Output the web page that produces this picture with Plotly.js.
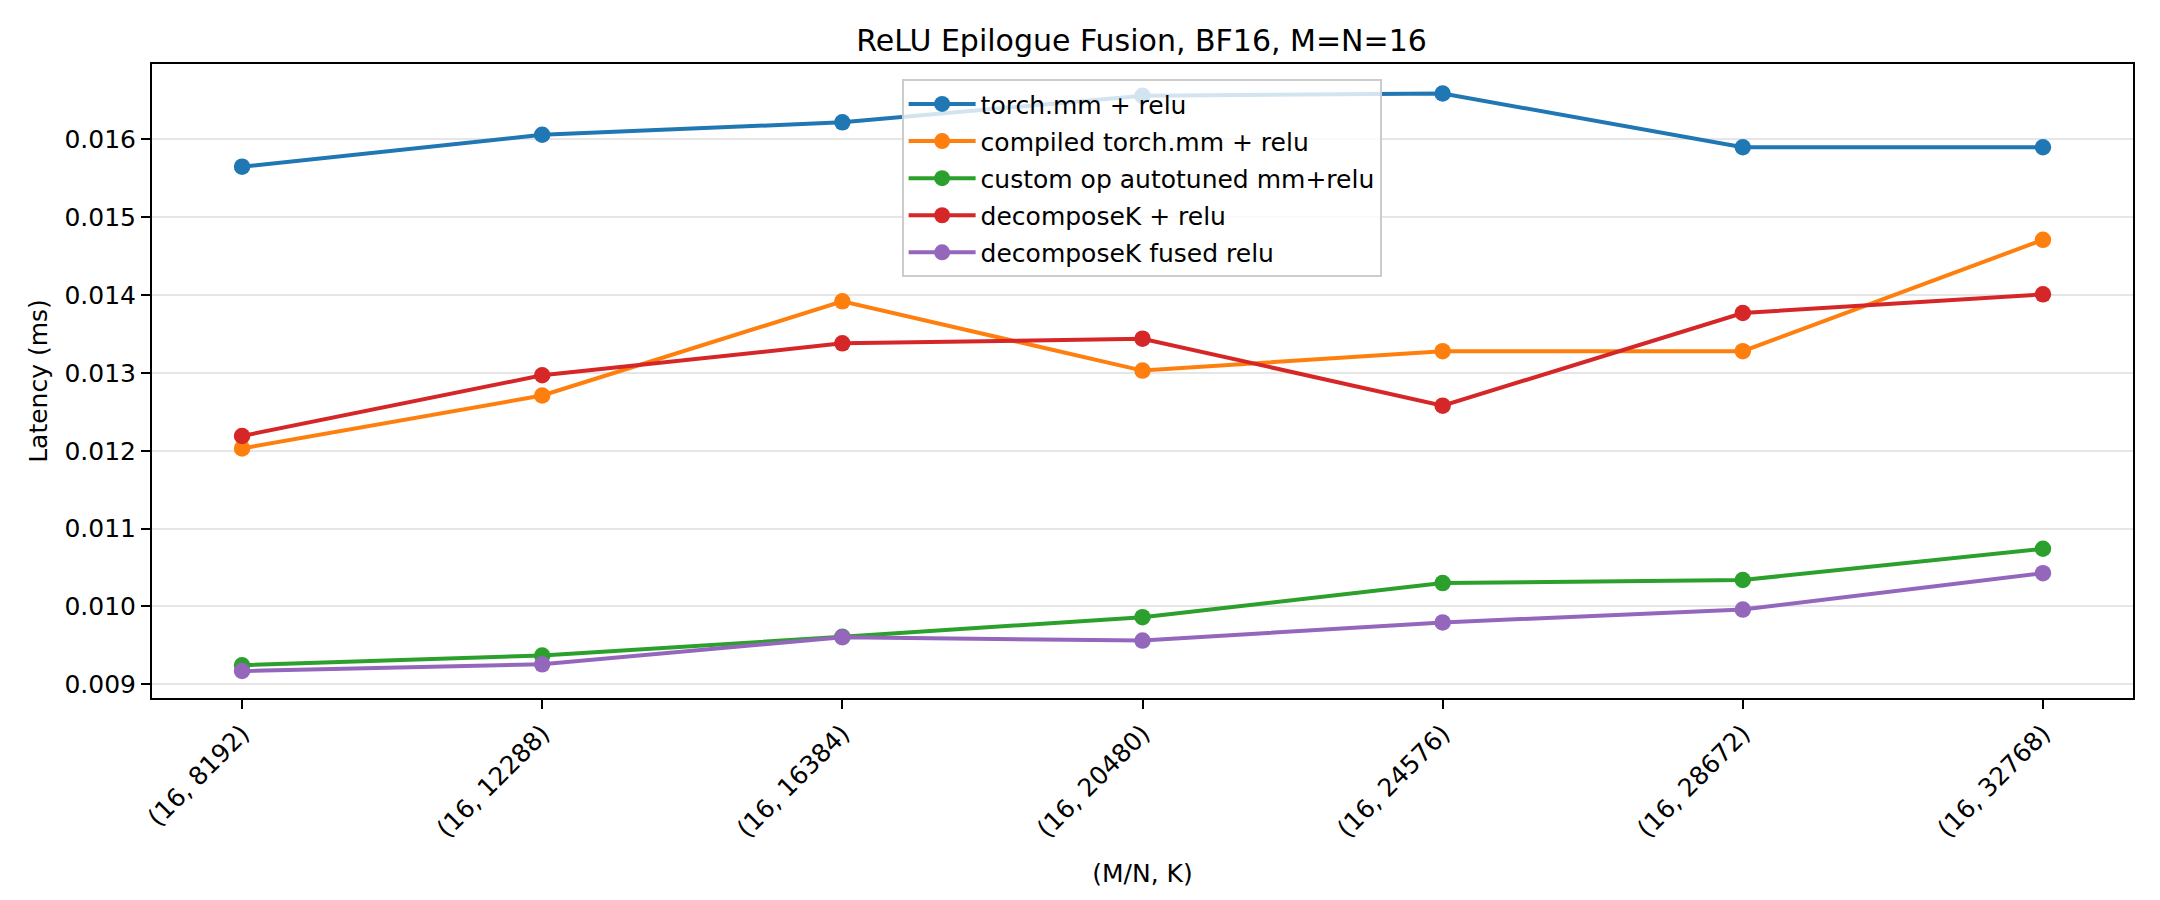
<!DOCTYPE html>
<html>
<head>
<meta charset="utf-8">
<script src="https://cdn.plot.ly/plotly-3.0.1.min.js"></script>
<style>html,body{margin:0;padding:0;background:#fff;}#chart{width:2160px;height:900px;}</style>
</head>
<body>
<div id="chart"></div>
<script>
const categories = ["(16, 8192)", "(16, 12288)", "(16, 16384)", "(16, 20480)", "(16, 24576)", "(16, 28672)", "(16, 32768)"];
const torchMmRelu = [0.01565, 0.01606, 0.01622, 0.01656, 0.01659, 0.01590, 0.01590];
const compiledTorchMmRelu = [0.01203, 0.01271, 0.01392, 0.01303, 0.01328, 0.01328, 0.01471];
const customOpAutotuned = [0.009245, 0.00937, 0.00961, 0.009862, 0.01030, 0.01034, 0.010741];
const decomposeKRelu = [0.01219, 0.01297, 0.01338, 0.01344, 0.01258, 0.01377, 0.01401];
const decomposeKFused = [0.009171, 0.009257, 0.009605, 0.009562, 0.009795, 0.00996, 0.010428];
const seriesNames = ["torch.mm + relu", "compiled torch.mm + relu", "custom op autotuned mm+relu", "decomposeK + relu", "decomposeK fused relu"];
const yTicks = [0.009, 0.010, 0.011, 0.012, 0.013, 0.014, 0.015, 0.016];

const colors = ["#1f77b4", "#ff7f0e", "#2ca02c", "#d62728", "#9467bd"];
const allSeries = [torchMmRelu, compiledTorchMmRelu, customOpAutotuned, decomposeKRelu, decomposeKFused];

const traces = allSeries.map((ys, i) => ({
  type: "scatter",
  mode: "lines+markers",
  x: categories,
  y: ys,
  name: seriesNames[i],
  legendgroup: "g" + i,
  line: {color: colors[i], width: 4},
  marker: {color: colors[i], size: 16.5}
}));

const font = "DejaVu Sans, sans-serif";
const layout = {
  width: 2160, height: 900,
  paper_bgcolor: "#ffffff", plot_bgcolor: "#ffffff",
  font: {family: font, size: 25, color: "#000"},
  margin: {l: 152, r: 27, t: 64, b: 202},
  title: {text: "ReLU Epilogue Fusion, BF16, M=N=16", font: {family: font, size: 30, color: "#000"},
          x: 0.5285, xanchor: "center", y: 1 - 40/900, yanchor: "middle", yref: "container"},
  showlegend: true,
  legend: {x: 0.3784, xanchor: "left", y: 0.976, yanchor: "top",
           bgcolor: "rgba(255,255,255,0.8)", bordercolor: "#cccccc", borderwidth: 2,
           font: {family: font, size: 25, color: "#000"}, itemwidth: 67, tracegroupgap: 1.6},
  xaxis: {
    type: "category", range: [-0.3, 6.3], autorange: false,
    showline: true, mirror: true, linecolor: "#000", linewidth: 2,
    ticks: "outside", ticklen: 9, tickwidth: 2, tickcolor: "#000",
    tickangle: -45, tickfont: {family: font, size: 25, color: "#000"},
    showgrid: false, zeroline: false,
    title: {text: "(M/N, K)", font: {family: font, size: 25, color: "#000"}, standoff: 22},
    automargin: false
  },
  yaxis: {
    range: [0.008824, 0.016969], autorange: false,
    tickvals: yTicks, ticktext: yTicks.map(v => v.toFixed(3)),
    showline: true, mirror: true, linecolor: "#000", linewidth: 2,
    ticks: "outside", ticklen: 9, tickwidth: 2, tickcolor: "#000",
    tickfont: {family: font, size: 25, color: "#000"},
    showgrid: true, gridcolor: "#e6e6e6", gridwidth: 2, zeroline: false,
    title: {text: "Latency (ms)", font: {family: font, size: 25, color: "#000"}, standoff: 10},
    automargin: false
  }
};

Plotly.newPlot("chart", traces, layout, {displayModeBar: false, staticPlot: true});
</script>
</body>
</html>
